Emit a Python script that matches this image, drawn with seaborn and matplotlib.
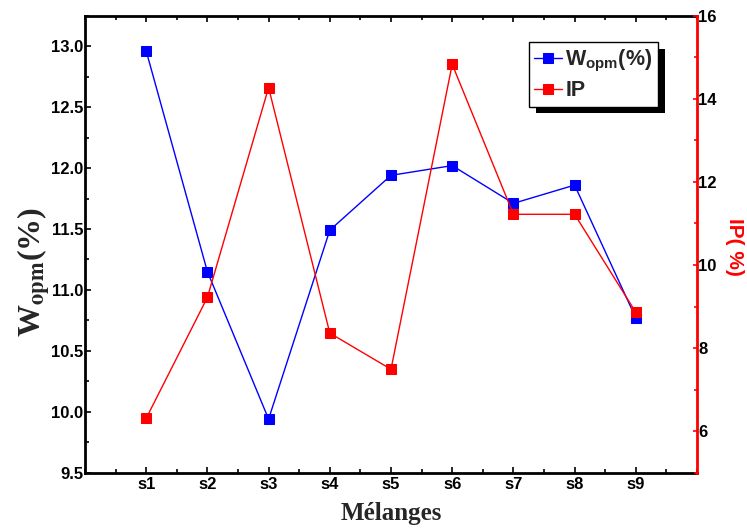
import matplotlib
matplotlib.use("Agg")
import matplotlib.pyplot as plt
import matplotlib.patheffects as pe
from matplotlib.ticker import MultipleLocator
import seaborn as sns
import pandas as pd

samples = ["s1", "s2", "s3", "s4", "s5", "s6", "s7", "s8", "s9"]
wopm = [12.96, 11.15, 9.94, 11.49, 11.94, 12.02, 11.71, 11.86, 10.77]
ip = [6.31, 9.22, 14.27, 8.36, 7.49, 14.83, 11.22, 11.22, 8.86]
left_ticks = [9.5, 10.0, 10.5, 11.0, 11.5, 12.0, 12.5, 13.0]
right_ticks = [6, 8, 10, 12, 14, 16]

df = pd.DataFrame({"sample": samples, "wopm": wopm, "ip": ip})

sns.set_style("ticks")
plt.rcParams["font.family"] = ["Liberation Sans", "DejaVu Sans"]
plt.rcParams["mathtext.fontset"] = "custom"
plt.rcParams["mathtext.bf"] = "Liberation Sans:bold"
plt.rcParams["mathtext.rm"] = "Liberation Sans"

fig = plt.figure(figsize=(7.47, 5.28), dpi=100)
ax = fig.add_axes([85 / 747, 1 - 472.7 / 528, 612 / 747, 457 / 528])
ax2 = ax.twinx()

BLUE = "#0000FF"
RED = "#FF0000"

sns.lineplot(data=df, x="sample", y="wopm", ax=ax, color=BLUE, marker="s",
             markersize=6.5, markeredgecolor=BLUE, linewidth=1, sort=False)
sns.lineplot(data=df, x="sample", y="ip", ax=ax2, color=RED, marker="s",
             markersize=6.5, markeredgecolor=RED, linewidth=1, sort=False)

ax.set_xlim(-1, 9)
ax.set_ylim(9.5, 13.25)
ax2.set_ylim(5, 16)

ax.set_yticks(left_ticks)
ax.yaxis.set_minor_locator(MultipleLocator(0.25))
ax.xaxis.set_minor_locator(MultipleLocator(0.5))
ax2.set_yticks(right_ticks)
ax2.yaxis.set_minor_locator(MultipleLocator(1))

ax.tick_params(axis="both", which="both", direction="in", top=True, right=False,
               width=1.2, colors="black", labelsize=12)
ax.tick_params(which="major", length=4.5)
ax.tick_params(which="minor", length=3)
ax.tick_params(axis="y", pad=1)
ax.tick_params(axis="x", pad=3)
ax.set_xticks(range(len(samples)))
ax.set_xticklabels(samples, fontweight="bold")
ax.set_yticklabels([f"{v:.1f}" for v in left_ticks], fontweight="bold")

ax2.tick_params(axis="y", which="both", direction="in", color=RED, width=1.2,
                labelcolor="black", pad=1, labelsize=12)
ax2.tick_params(axis="y", which="major", length=3)
ax2.tick_params(axis="y", which="minor", length=2)
ax2.set_yticklabels([str(v) for v in right_ticks], fontweight="bold")

for s in ["left", "bottom", "top"]:
    ax.spines[s].set_linewidth(2)
    ax.spines[s].set_color("black")
ax.spines["right"].set_visible(False)
for s in ["left", "bottom", "top"]:
    ax2.spines[s].set_visible(False)
ax2.spines["right"].set_color(RED)
ax2.spines["right"].set_linewidth(2)

ax.set_xlabel("Mélanges", family="Liberation Serif", fontweight="bold", fontsize=18)
ax.xaxis.label.set_va("center")
ax.xaxis.set_label_coords(0.5, -0.09)

ax.set_ylabel("W$_{\\mathbf{opm}}$(%)", family="Liberation Serif", fontweight="bold",
              fontsize=23, math_fontfamily="stix")
ax.yaxis.label.set_va("center")
ax.yaxis.label.set_ha("center")
ax.yaxis.set_label_coords(-0.083, 0.44)

ax2.set_ylabel("IP( %)", rotation=270, color=RED, fontweight="bold", fontsize=15)
ax2.yaxis.label.set_va("center")
ax2.yaxis.label.set_ha("center")
ax2.yaxis.set_label_coords(1.0605, 0.494)

h1 = ax.get_lines()[0]
h2 = ax2.get_lines()[0]
leg = ax2.legend([h1, h2], ["W$_{\\mathbf{opm}}$(%)", "IP"], loc="upper left",
                 bbox_to_anchor=(0.725, 0.942), borderaxespad=0,
                 prop={"weight": "bold", "size": 15.5, "family": "Liberation Sans"},
                 handlelength=1.3, handletextpad=0.15, labelspacing=0.3,
                 borderpad=0.25, fancybox=False, frameon=True)
frame = leg.get_frame()
frame.set_edgecolor("black")
frame.set_linewidth(1)
frame.set_alpha(1)
frame.set_path_effects([pe.SimplePatchShadow(offset=(5, -5), shadow_rgbFace="black",
                                             alpha=1), pe.Normal()])

fig.savefig("out.png", dpi=100)
